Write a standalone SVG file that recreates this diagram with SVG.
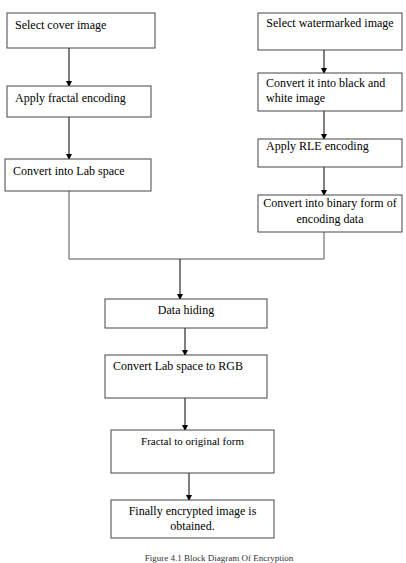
<svg xmlns="http://www.w3.org/2000/svg" width="406" height="563" viewBox="0 0 406 563">
<style>
.box{fill:#fff;stroke:#444;stroke-width:1}
.t{font-family:"Liberation Serif","Times New Roman",serif;font-size:12px;fill:#000}
.c{text-anchor:middle}
.ln{fill:none;stroke:#000;stroke-width:1}
.gl{fill:none;stroke:#555;stroke-width:1}
</style>
<defs>
<marker id="ah" markerWidth="6" markerHeight="6" refX="5" refY="3" orient="auto" markerUnits="userSpaceOnUse">
<path d="M0,0 L6,3 L0,6 Z" fill="#000"/>
</marker>
</defs>
<rect width="406" height="563" fill="#fff"/>
<g id="connectors">
<line class="ln" x1="69" y1="48" x2="69" y2="86" marker-end="url(#ah)"/>
<line class="ln" x1="69" y1="117" x2="69" y2="159" marker-end="url(#ah)"/>
<line class="ln" x1="324" y1="50" x2="324" y2="73" marker-end="url(#ah)"/>
<line class="ln" x1="324" y1="111" x2="324" y2="139" marker-end="url(#ah)"/>
<line class="ln" x1="324" y1="167" x2="324" y2="195" marker-end="url(#ah)"/>
<polyline class="gl" points="69,191 69,259 324,259 324,232"/>
<line class="ln" x1="180" y1="259" x2="180" y2="299" marker-end="url(#ah)"/>
<line class="ln" x1="185" y1="328" x2="185" y2="355" marker-end="url(#ah)"/>
<line class="ln" x1="185" y1="398" x2="185" y2="430" marker-end="url(#ah)"/>
<line class="ln" x1="189" y1="473" x2="189" y2="500" marker-end="url(#ah)"/>
</g>
<g id="n1"><rect class="box" x="7" y="13" width="148" height="35"/><text class="t" x="15" y="29">Select cover image</text></g>
<g id="n2"><rect class="box" x="7" y="86" width="144" height="31"/><text class="t" x="15" y="102">Apply fractal encoding</text></g>
<g id="n3"><rect class="box" x="5" y="159" width="146" height="32"/><text class="t" x="13" y="175">Convert into Lab space</text></g>
<g id="r1"><rect class="box" x="258" y="13" width="144" height="37"/><text class="t c" x="330" y="27">Select watermarked image</text></g>
<g id="r2"><rect class="box" x="258" y="73" width="144" height="38"/><text class="t" x="266" y="87">Convert it into black and</text><text class="t" x="266" y="102">white image</text></g>
<g id="r3"><rect class="box" x="258" y="139" width="144" height="28"/><text class="t" x="266" y="150">Apply RLE encoding</text></g>
<g id="r4"><rect class="box" x="258" y="195" width="144" height="37"/><text class="t c" x="330" y="207">Convert into binary form of</text><text class="t c" x="330" y="223">encoding data</text></g>
<g id="d1"><rect class="box" x="105" y="299" width="162" height="29"/><text class="t c" x="186" y="314">Data hiding</text></g>
<g id="d2"><rect class="box" x="105" y="355" width="162" height="43"/><text class="t" x="113" y="370">Convert Lab space to RGB</text></g>
<g id="d3"><rect class="box" x="111" y="430" width="163" height="43"/><text class="t c" x="192.5" y="445" style="font-size:11px">Fractal to original form</text></g>
<g id="d4"><rect class="box" x="111" y="500" width="163" height="38"/><text class="t c" x="192.5" y="515">Finally encrypted image is</text><text class="t c" x="192.5" y="530">obtained.</text></g>
<text class="t c" x="219" y="560.5" style="font-size:9px;fill:#333">Figure 4.1 Block Diagram Of Encryption</text>
</svg>
